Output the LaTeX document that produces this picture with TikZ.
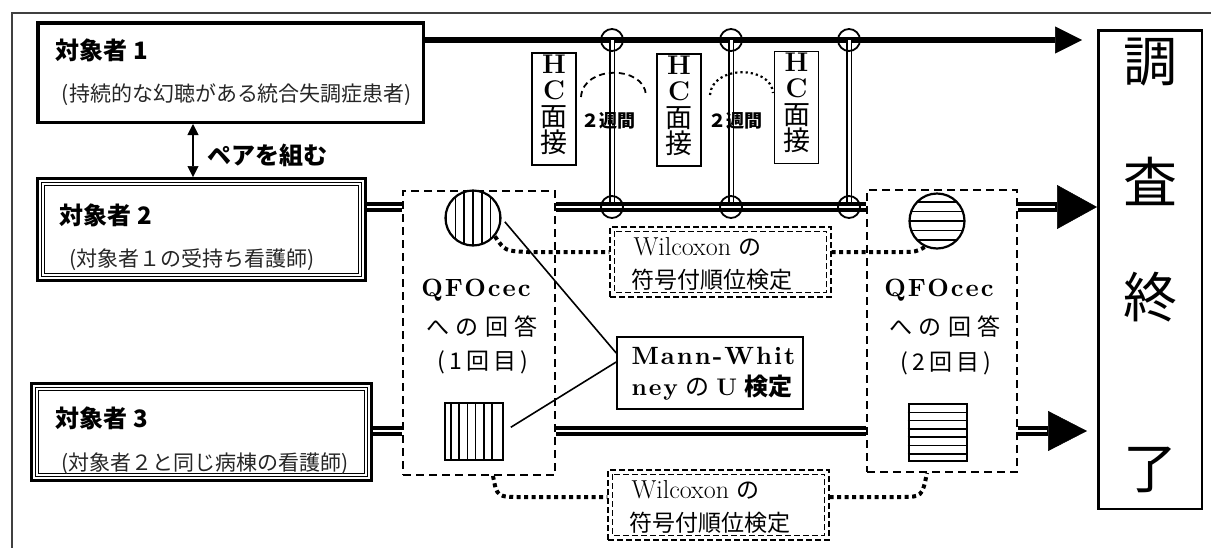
\documentclass[tikz,border=0pt]{standalone}
\usepackage{fontspec}
\usetikzlibrary{arrows.meta,calc}
\newfontfamily\cjk{Noto Sans CJK JP}
\newfontfamily\cjkw{Noto Sans CJK JP}[LetterSpace=28]
\newfontfamily\cjkv{Noto Sans CJK JP}[LetterSpace=18]
\newfontfamily\lmw{lmroman10-regular}[Extension=.otf,BoldFont=lmroman10-bold,LetterSpace=8]
\newcommand\fsz[1]{\fontsize{#1}{#1}\selectfont}
\pgfdeclarelayer{bg}
\pgfsetlayers{bg,main}
\begin{document}
\begin{tikzpicture}[x=1pt,y=-1pt,
  thickbox/.style={draw,line width=3.5pt,inner sep=0pt},
  tribox/.style={draw,line width=3.3pt,inner sep=0pt},
  hcbox/.style={draw,line width=1.2pt,inner sep=0pt,minimum width=44pt,minimum height=112pt},
  dbox/.style={draw,line width=1.8pt,dash pattern=on 8pt off 5pt,inner sep=0pt},
  wbox/.style={draw,line width=1.3pt,dash pattern=on 6pt off 3pt,inner sep=0pt,minimum width=221pt,minimum height=70pt},
  wdash/.style={line width=1.3pt,dash pattern=on 6pt off 3pt},
  mwbox/.style={draw,line width=1.6pt,inner sep=0pt},
  ring/.style={circle,draw,line width=1.8pt,minimum size=22pt,inner sep=0pt},
  hatchc/.style={circle,draw,line width=2.2pt,minimum size=55pt,inner sep=0pt},
  hatchs/.style={draw,line width=2pt,minimum width=58pt,minimum height=57pt,inner sep=0pt},
  hl/.style={line width=1.6pt},
  dbl/.style={line width=3.9pt,double=white,double distance=2.6pt},
  vdbl/.style={line width=1.5pt,double=white,double distance=3pt},
  dotcon/.style={line width=4pt,dash pattern=on 4pt off 3.5pt},
  thinl/.style={line width=1.6pt},
  head/.style={anchor=west,font={\cjk\bfseries\fsz{24}}},
  sub/.style={font={\cjk\fsz{21}},text=black!85},
  hctext/.style={font={\fontsize{27}{26.5}\selectfont},align=center,inner sep=0pt},
  wk/.style={font={\cjk\bfseries\fsz{18}}},
  fin/.style={font={\cjk\fsz{54}}},
  qa/.style={font={\lmw\bfseries\fsz{25}}},
  qb/.style={font={\cjkw\fsz{23}}},
  qc/.style={font={\cjkv\fsz{23}}},
  wt/.style={anchor=west,font={\fsz{26}}}
]
\useasboundingbox (0,0) rectangle (1211,547);
\draw[line width=1.3pt,black!75] (12,560) -- (12,13) -- (1230,13);

% ---- subjects
\node[thickbox,minimum width=385.5pt,minimum height=99.5pt] (s1) at (230.5,72.5) {};
\node[head] (s1a) at (52,50) {対象者 1};
\node[sub] (s1b) at (237,95) {(持続的な幻聴がある統合失調症患者)};

\node[tribox,minimum width=327.7pt,minimum height=101.7pt] (s2) at (201.5,229.5) {};
\draw[line width=1.3pt] ([shift={(5.3pt,-5.3pt)}]s2.north west) rectangle ([shift={(-5.3pt,5.3pt)}]s2.south east);
\draw[line width=1pt] ([shift={(8.8pt,-8.8pt)}]s2.north west) rectangle ([shift={(-8.8pt,8.8pt)}]s2.south east);
\node[head] (s2a) at (56,215) {対象者 2};
\node[sub] (s2b) at (192,260) {(対象者１の受持ち看護師)};

\node[tribox,minimum width=339.7pt,minimum height=96.7pt] (s3) at (201.5,432) {};
\draw[line width=1.3pt] ([shift={(5.3pt,-5.3pt)}]s3.north west) rectangle ([shift={(-5.3pt,5.3pt)}]s3.south east);
\draw[line width=1pt] ([shift={(8.8pt,-8.8pt)}]s3.north west) rectangle ([shift={(-8.8pt,8.8pt)}]s3.south east);
\node[head] (s3a) at (52,418) {対象者 3};
\node[sub] (s3b) at (205,464) {(対象者２と同じ病棟の看護師)};

\coordinate (px) at (193,0);
\draw[line width=2pt,{Triangle[length=11pt,width=11pt,line width=0.5pt]}-{Triangle[length=11pt,width=11pt,line width=0.5pt]}] (s1.south -| px) -- (s2.north -| px);
\node[anchor=west,font={\cjk\bfseries\fsz{24}}] (pair) at (204,155) {ペアを組む};

% ---- questionnaire boxes
\node[dbox,minimum width=152pt,minimum height=284pt] (q1) at (479,333) {};
\node[dbox,minimum width=150pt,minimum height=282pt] (q2) at (942,331) {};
\node[qa] (q1a) at (476,290) {QFOcec};
\node[qb] (q1b) at (482,327) {への回答};
\node[qc] (q1c) at (483,362) {(1回目)};
\node[qa] (q2a) at (939,290) {QFOcec};
\node[qb] (q2b) at (945,327) {への回答};
\node[qc] (q2c) at (946,363) {(2回目)};

% hatched circles
\coordinate (c1p) at (473,218);
\coordinate (c2p) at (937,221);
\begin{scope}
  \clip (c1p) circle[radius=27pt];
  \foreach \k in {-3,...,3} \draw[hl] ($(c1p)+(\k*8.8,-30)$) -- ($(c1p)+(\k*8.8,30)$);
\end{scope}
\begin{scope}
  \clip (c2p) circle[radius=27pt];
  \foreach \k in {-3,...,3} \draw[hl] ($(c2p)+(-30,\k*9.5)$) -- ($(c2p)+(30,\k*9.5)$);
\end{scope}
\node[hatchc] (c1) at (c1p) {};
\node[hatchc] (c2) at (c2p) {};

% hatched squares
\node[hatchs] (sq1) at (474,431.5) {};
\foreach \k in {0,...,5} \draw[hl] ($(sq1.north west)+(6.7+\k*8.3,0)$) -- ($(sq1.south west)+(6.7+\k*8.3,0)$);
\node[hatchs] (sq2) at (937.5,432.5) {};
\foreach \k in {0,...,5} \draw[hl] ($(sq2.north west)+(0,9.3+\k*8.3)$) -- ($(sq2.north east)+(0,9.3+\k*8.3)$);

% ---- Mann-Whitney
\node[mwbox,minimum width=186pt,minimum height=72pt] (mw) at (710,373) {};
\node[anchor=west,font={\lmw\bfseries\fsz{25}}] (mwa) at (628,356) {Mann-Whit};
\node[anchor=west,font={\fsz{24}}] (mwb) at (628,388) {{\lmw\bfseries ney} {\cjk の} {\bfseries U} {\cjk\bfseries 検定}};
\draw[thinl,shorten <=5pt] (c1.east) -- ([yshift=20pt]mw.west);
\draw[thinl,shorten <=8pt] (sq1.east) -- ([yshift=11pt]mw.west);

% ---- Wilcoxon
\node[wbox] (w1) at (720.5,262) {};
\draw[wdash] ([shift={(5pt,-5pt)}]w1.north west) rectangle ([shift={(-5pt,5pt)}]w1.south east);
\node[wt] (w1a) at (630,247) {Wilcoxon {\cjk\fsz{23}の}};
\node[wt,font={\cjk\fsz{23}}] (w1b) at (628,280) {符号付順位検定};

\node[wbox] (w2) at (718.5,505) {};
\draw[wdash] ([shift={(5pt,-5pt)}]w2.north west) rectangle ([shift={(-5pt,5pt)}]w2.south east);
\node[wt] (w2a) at (628,490) {Wilcoxon {\cjk\fsz{23}の}};
\node[wt,font={\cjk\fsz{23}}] (w2b) at (626,523) {符号付順位検定};

\draw[dotcon] (c1.-40) .. controls (505,251) .. (528,252) -- ([yshift=10pt]w1.west);
\draw[dotcon] ([yshift=10pt]w1.east) -- (898,252) .. controls (916,252) .. (c2.-115);
\draw[dotcon] ([xshift=14pt]q1.south) .. controls (497,497) .. (522,497) -- ([yshift=8pt]w2.west);
\draw[dotcon] ([yshift=8pt]w2.east) -- (900,497) .. controls (922,497) .. ([xshift=-15pt]q2.south);

% ---- HC interviews
\node[hcbox] (hc1) at (554,109) {};
\node[hcbox] (hc2) at (679,110) {};
\node[hcbox] (hc3) at (796.5,107.5) {};
\node[hctext] (hc1t) at (554,105) {\textbf{H}\\\textbf{C}\\{\cjk 面}\\{\cjk 接}};
\node[hctext] (hc2t) at (679,106) {\textbf{H}\\\textbf{C}\\{\cjk 面}\\{\cjk 接}};
\node[hctext] (hc3t) at (796.5,103) {\textbf{H}\\\textbf{C}\\{\cjk 面}\\{\cjk 接}};
\node[wk] (wk1) at (608,121) {２週間};
\node[wk] (wk2) at (735,121) {２週間};
\draw[line width=1.8pt,dash pattern=on 6pt off 4pt] (581,97) .. controls (583,65) and (644,65) .. (646,95);
\draw[line width=2.2pt,dash pattern=on 2.2pt off 3pt] (710,95) .. controls (712,65) and (771,65) .. (773,93);

% ---- timeline circles
\node[ring] (t1) at (612,40) {};
\node[ring] (t2) at (731,40) {};
\node[ring] (t3) at (849,40) {};
\node[ring] (b1) at (612,207) {};
\node[ring] (b2) at (731,207) {};
\node[ring] (b3) at (849,207) {};

% ---- end box
\node[draw,line width=2.5pt,minimum width=103.5pt,minimum height=478.5pt,inner sep=0pt] (fin) at (1150,269.5) {};
\node[fin] (f1) at (1150,62) {調};
\node[fin] (f2) at (1150,181) {査};
\node[fin] (f3) at (1150,297) {終};
\node[fin] (f4) at (1150,470) {了};

% ---- timelines
\coordinate (y1) at (0,40);
\coordinate (y2) at (0,207);
\coordinate (y3) at (0,431);
\coordinate (e1) at (1082,40);
\coordinate (e3) at (1087,431);
\begin{pgfonlayer}{bg}
\draw[line width=5.5pt,-{Triangle[length=27pt,width=27pt,line width=0.5pt]}] (s1.east |- y1) -- (e1);
\draw[vdbl] (t1.center) -- (b1.center);
\draw[vdbl] (t2.center) -- (b2.center);
\draw[vdbl] (t3.center) -- (b3.center);
\draw[dbl] (q1.east |- y2) -- (q2.west |- y2);
\draw[dbl] (q1.east |- y3) -- (q2.west |- y3);
\end{pgfonlayer}
\draw[dbl] (s2.east |- y2) -- (q1.west |- y2);
\draw[dbl] (s3.east |- y3) -- (q1.west |- y3);
\draw[line width=10.4pt,-{Triangle[length=40pt,width=44pt,line width=0.5pt]}] (q2.east |- y2) -- (fin.west |- y2);
\draw[white,line width=2.6pt] (q2.east |- y2) -- ++(37,0);
\draw[line width=10.4pt,-{Triangle[length=39pt,width=40pt,line width=0.5pt]}] (q2.east |- y3) -- (e3);
\draw[white,line width=2.6pt] (q2.east |- y3) -- ++(29,0);
\end{tikzpicture}
\end{document}
